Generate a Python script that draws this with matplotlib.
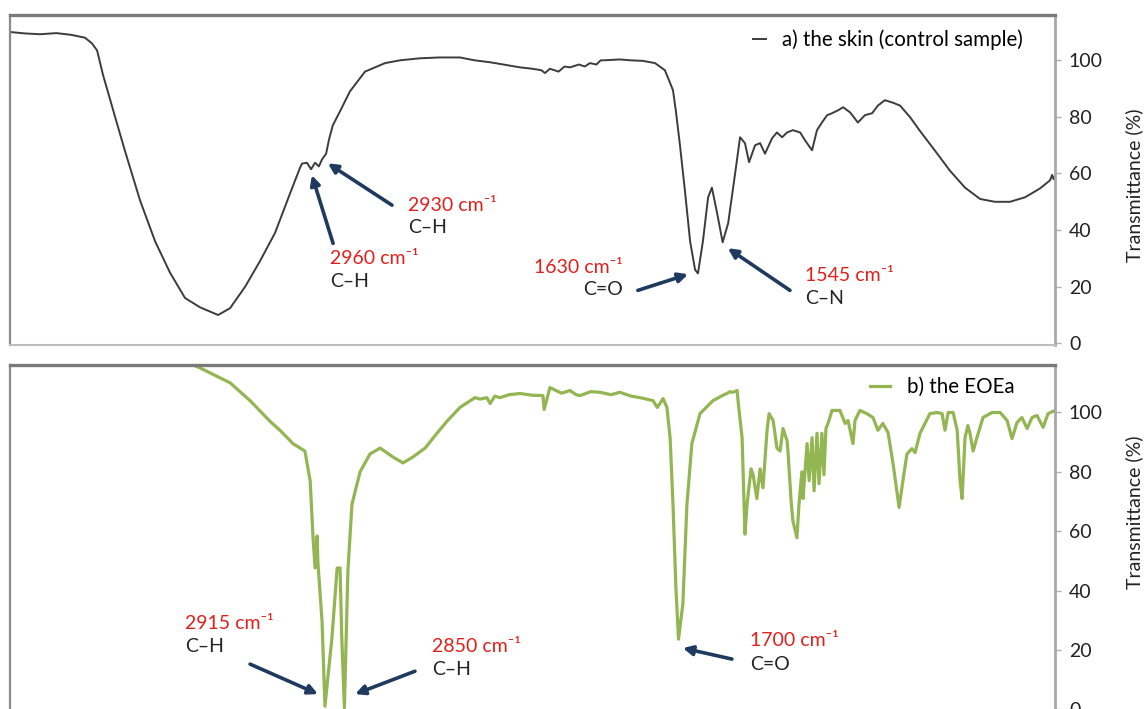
import matplotlib
matplotlib.use("Agg")
import matplotlib.pyplot as plt

# ---------------- data ----------------
# a) the skin (control sample): wavenumber (cm-1) and transmittance (%)
skin_wn = [4000, 3950, 3897, 3840, 3790, 3742, 3718, 3700, 3680, 3638, 3604, 3552, 3500,
           3449, 3397, 3345, 3283, 3242, 3190, 3139, 3087, 3035, 3001, 2994, 2977,
           2963, 2949, 2936, 2925, 2911, 2901, 2888, 2863, 2829, 2777, 2708, 2656,
           2588, 2520, 2450, 2400, 2346, 2300, 2243, 2200, 2170, 2157, 2140, 2110,
           2090, 2071, 2040, 2020, 2002, 1980, 1965, 1950, 1900, 1864, 1820, 1778,
           1744, 1730, 1716, 1706, 1692, 1675, 1657, 1640, 1630, 1613, 1595, 1582,
           1564, 1545, 1526, 1502, 1485, 1468, 1454, 1433, 1416, 1399, 1375, 1358,
           1340, 1323, 1303, 1278, 1261, 1237, 1220, 1203, 1185, 1168, 1148, 1130,
           1106, 1079, 1055, 1030, 1010, 986, 958, 934, 900, 865, 813, 762, 710,
           658, 607, 555, 503, 452, 417, 410, 405, 400]
skin_t = [110, 109.5, 109.2, 109.6, 109, 108, 106, 103.5, 95, 80, 68, 50.5, 36,
          25, 16, 12.7, 10, 12.4, 20, 29, 39, 53, 62, 63.5, 63.8,
          61.5, 63.8, 62.5, 65, 67, 72, 77, 82, 89, 96, 99, 100,
          100.7, 101, 101, 100, 99.3, 98.5, 97.5, 97, 96.5, 95.5, 97, 96,
          97.8, 97.5, 98.5, 97.8, 99, 98.5, 100, 100, 100.3, 100, 99.8, 99,
          96.5, 93, 89.4, 82, 70, 54, 36, 26, 24.7, 36, 51.6, 55,
          46, 35.7, 42.4, 60, 72.8, 70.7, 64, 70, 70.7, 67, 72.4, 74.5,
          72.8, 74.5, 75.3, 74.5, 71.7, 68.2, 75.3, 78, 80.6, 81.3, 82.3, 83.4,
          81.6, 78, 80.6, 81.3, 84, 85.9, 85, 84, 80, 75, 68, 61, 55,
          51, 50, 50, 51.6, 54.7, 57.6, 59.5, 58, 59]

# b) the EOEa
eoea_wn = [3449, 3414, 3380, 3345, 3242, 3173, 3104, 3070, 3025, 2984, 2966, 2956,
           2949, 2942, 2939, 2925, 2915, 2891, 2873, 2863, 2857, 2848, 2836, 2822,
           2794, 2760, 2725, 2681, 2646, 2612, 2570, 2529, 2495, 2450, 2398, 2380,
           2357, 2346, 2330, 2312, 2280, 2243, 2200, 2164, 2160, 2140, 2100, 2071,
           2050, 2036, 2000, 1967, 1930, 1899, 1860, 1830, 1785, 1770, 1750, 1737,
           1726, 1716, 1706, 1697, 1682, 1668, 1651, 1623, 1578, 1540, 1530, 1520,
           1510, 1495, 1492, 1478, 1468, 1461, 1447, 1440, 1427, 1416, 1406, 1392,
           1385, 1371, 1358, 1347, 1337, 1323, 1320, 1309, 1303, 1289, 1282, 1272,
           1268, 1254, 1247, 1237, 1230, 1220, 1213, 1203, 1196, 1189, 1182, 1168,
           1141, 1123, 1113, 1096, 1089, 1072, 1048, 1027, 1010, 993, 975, 958,
           937, 924, 910, 893, 882, 865, 848, 831, 806, 789, 779, 768, 751, 737,
           727, 720, 710, 700, 693, 682, 669, 648, 617, 589, 565, 548, 531, 514,
           496, 479, 462, 441, 424, 400]
eoea_t = [120, 118, 116.5, 115, 110, 104, 97, 94, 89.5, 87, 77, 57.8,
          47.6, 58.4, 49, 29.7, 1, 24, 47.6, 47.6, 24, 0.5, 46.6, 69,
          80, 86, 88, 85, 83, 85, 88, 93, 97, 101.7, 105, 104.5,
          105, 103, 105.5, 105, 106, 106.4, 105.8, 105.7, 101, 108.4, 106.5, 107.4,
          106, 105.7, 107, 106.8, 106, 106.8, 105.5, 105, 104, 101.7, 104.7, 101.7,
          91.5, 69, 41, 23.6, 35.5, 69, 89.5, 99.6, 104, 106, 106.4, 107,
          106.8, 107.4, 104, 91.5, 59, 69, 81, 79, 71, 81, 74.6, 94,
          99.6, 97.3, 88, 87, 94.6, 90.5, 87, 70, 63.5, 57.8, 69, 80,
          71, 89.5, 77, 91.5, 73.6, 93, 76, 93, 79, 94.6, 96.3, 100.7,
          100.7, 96.3, 97.3, 89.5, 97.3, 100.7, 99.6, 98.3, 94, 96.3, 93.2, 82.8,
          68, 77, 86, 87.8, 86.5, 93, 96.3, 99.6, 100, 99.6, 94, 100, 100, 94,
          77, 71, 91.5, 95.6, 93, 87, 91.5, 98.3, 100, 100, 97.3, 91.2, 96.6, 98.3,
          94.6, 98.3, 99, 95, 99.6, 100.7]

yticks = [0, 20, 40, 60, 80, 100]

# annotations: (label, bond, arrow head (wn, T), arrow tail (wn, T), text pos (wn, T), ha)
skin_notes = [
    ("2960", "C\u2013H", (2960, 59.4), (2887, 35.3), (2898, 30.0), "left"),
    ("2930", "C\u2013H", (2905, 63.6), (2684, 48.8), (2629, 48.8), "left"),
    ("1630", "C=O", (1664, 24.4), (1837, 18.7), (1888, 26.9), "right"),
    ("1545", "C\u2013N", (1527, 33.6), (1313, 18.7), (1261, 24.0), "left"),
]
eoea_notes = [
    ("2915", "C\u2013H", (2939, 5.1), (3173, 15.2), (3397, 29.0), "left"),
    ("2850", "C\u2013H", (2811, 5.1), (2605, 12.8), (2546, 21.3), "left"),
    ("1700", "C=O", (1682, 20.6), (1513, 16.9), (1451, 23.0), "left"),
]

# ---------------- style ----------------
FONT = ["Lato", "DejaVu Sans"]
plt.rcParams["font.family"] = FONT
RED = "#e0201c"
NAVY = "#1f3a5f"
GREY_LINE = "#3c3c3c"
GREEN = "#93b653"

W, H = 1145, 709
fig = plt.figure(figsize=(W / 100, H / 100), dpi=100)

def px_axes(left, top, right, bottom):
    return fig.add_axes([left / W, 1 - bottom / H, (right - left) / W, (bottom - top) / H])

ax1 = px_axes(10, 15, 1055, 345)
ax2 = px_axes(10, 365, 1055, 711)

def style(ax, ylabel_y):
    ax.set_xlim(4000, 400)
    ax.set_ylim(-0.6, 116)
    ax.set_xticks([])
    ax.yaxis.tick_right()
    ax.set_yticks(yticks)
    ax.set_yticklabels([str(v) for v in yticks])
    ax.tick_params(axis="y", direction="out", length=4, width=1, color="#b0b0b0",
                   labelsize=14, labelcolor="#222222", pad=6)
    ax.set_ylabel("Transmittance (%)", fontsize=14, color="#222222")
    ax.yaxis.set_label_position("right")
    ax.yaxis.set_label_coords(1.067, ylabel_y)
    ax.spines["top"].set_color("#7a7a7a")
    ax.spines["top"].set_linewidth(2.4)
    ax.spines["left"].set_color("#8a8a8a")
    ax.spines["left"].set_linewidth(1.6)
    ax.spines["right"].set_color("#a8a8a8")
    ax.spines["right"].set_linewidth(2.0)
    ax.spines["bottom"].set_color("#bdbdbd")
    ax.spines["bottom"].set_linewidth(1.5)

def annotate(ax, notes):
    for wn, bond, head, tail, pos, ha in notes:
        ax.annotate("", xy=head, xytext=tail,
                    arrowprops=dict(arrowstyle="-|>", color=NAVY, lw=2.6,
                                    mutation_scale=14, shrinkA=0, shrinkB=0))
        ax.text(pos[0], pos[1], wn + " cm\u207b\u00b9", color=RED, fontsize=14,
                ha=ha, va="center", family=FONT)
        ax.text(pos[0], pos[1] - 8.0, bond, color="#222222", fontsize=14,
                ha=ha, va="center", family=FONT)

style(ax1, 0.485)
style(ax2, 0.574)

ax1.plot(skin_wn, skin_t, color=GREY_LINE, lw=1.4, label="a) the skin (control sample)")
ax2.plot(eoea_wn, eoea_t, color=GREEN, lw=2.3, label="b) the EOEa")

annotate(ax1, skin_notes)
annotate(ax2, eoea_notes)

ax1.legend(loc="upper right", bbox_to_anchor=(0.983, 1.0), frameon=False, fontsize=14.8,
           handlelength=0.6, handletextpad=0.8, borderaxespad=0.3)
ax2.legend(loc="upper right", bbox_to_anchor=(0.973, 1.0), frameon=False, fontsize=14.8,
           handlelength=1.0, handletextpad=0.8, borderaxespad=0.2)

fig.savefig("out.png", dpi=100)
